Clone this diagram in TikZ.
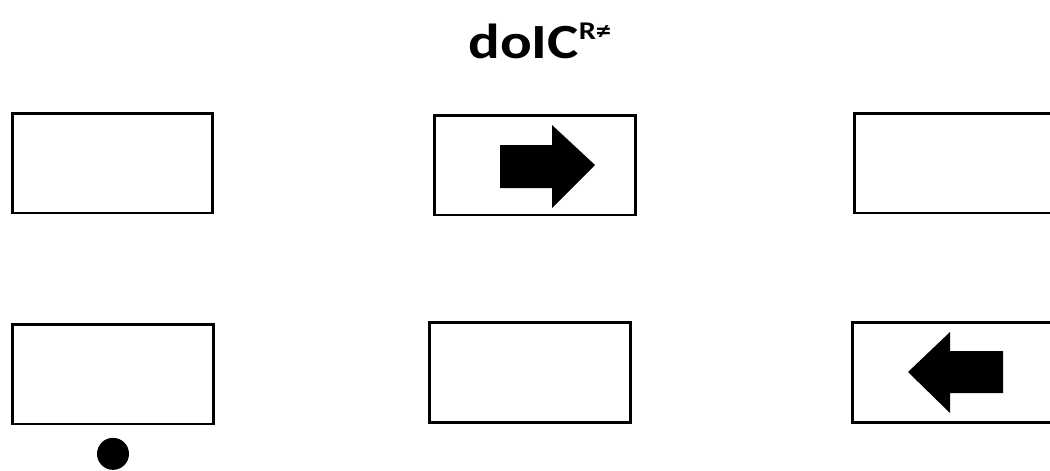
\documentclass[tikz,border=0pt]{standalone}
\usepackage{fontspec}
\setmainfont{Carlito}
\usepackage{graphicx}
\usepackage{tikz}
\usetikzlibrary{positioning}

\begin{document}
\begin{tikzpicture}[
        x=0.02cm, y=-0.02cm,
        panel/.style={
            draw, line width=1.7pt, fill=white,
            minimum width=4.02cm, minimum height=2.0cm,
            inner sep=0pt
        },
        pointer/.style={fill=black, draw=none},
        marker/.style={fill=black, draw=none}
    ]

    \useasboundingbox (0,0) rectangle (1050,470);
    \clip (0,0) rectangle (1050,470);

    % Title
    \node[anchor=base west, inner sep=0pt, font=\bfseries]
        (title) at (468,58) {\scalebox{1.2}[1]{\fontsize{28}{30}\selectfont doIC%
        \raisebox{10.5pt}{\fontsize{14.5}{15}\selectfont R≠}}};

    % Upper row
    \node[panel] (upleft) at (112.5,163) {};
    \node[panel] (upmid) at (535,165) {};
    \node[panel] (upright) at (954.5,163) {};

    % Lower row
    \node[panel] (lowleft) at (113,374) {};
    \node[panel] (lowmid) at (530,372.5) {};
    \node[panel] (lowright) at (953,372.5) {};

    % Arrows inside panels
    \fill[pointer] (500,145) -- (552,145) -- (552,125) -- (595,165)
        -- (552,208) -- (552,188) -- (500,188) -- cycle;
    \fill[pointer] (1003,351) -- (950,351) -- (950,332) -- (908,372)
        -- (950,413) -- (950,393) -- (1003,393) -- cycle;

    % Dot below lower left panel
    \node[marker, circle, minimum size=0.64cm, inner sep=0pt,
        below=0.24cm of lowleft] (dot) {};

\end{tikzpicture}
\end{document}
